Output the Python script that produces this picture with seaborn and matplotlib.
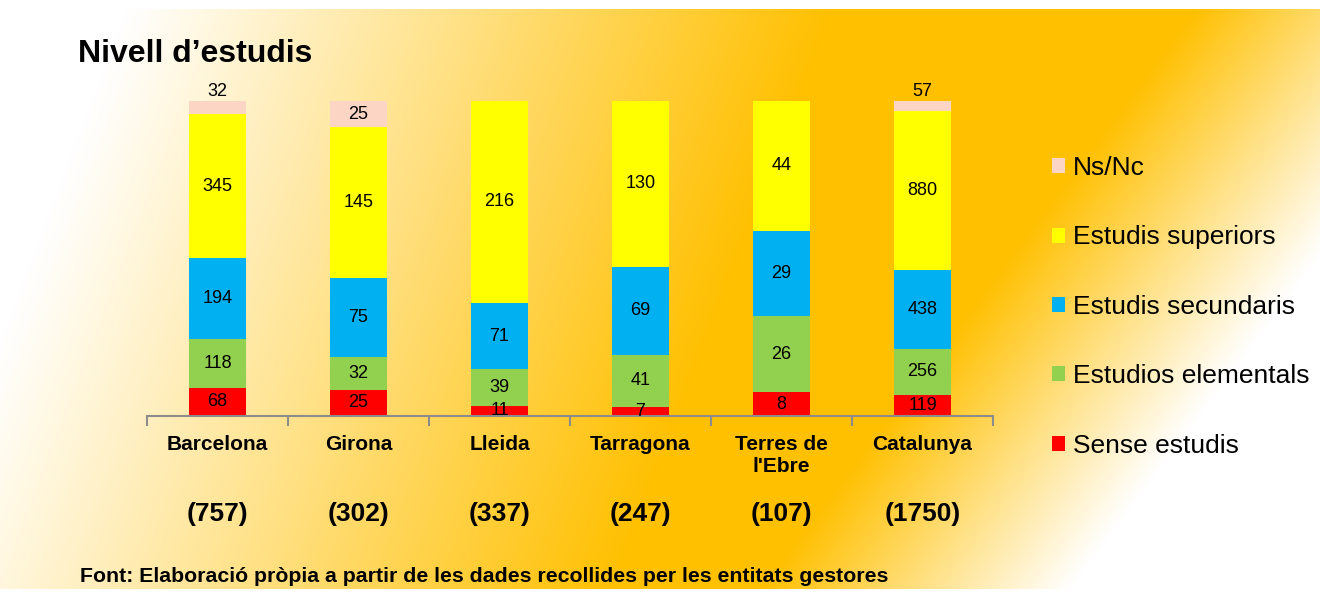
import numpy as np
import pandas as pd
import matplotlib
matplotlib.use("Agg")
import matplotlib.pyplot as plt
from matplotlib.patches import Patch
import seaborn as sns

# ---- data ----
categories = ["Barcelona", "Girona", "Lleida", "Tarragona", "Terres de\nl'Ebre", "Catalunya"]
totals_text = ["(757)", "(302)", "(337)", "(247)", "(107)", "(1750)"]
sense_estudis = [68, 25, 11, 7, 8, 119]
estudios_elementals = [118, 32, 39, 41, 26, 256]
estudis_secundaris = [194, 75, 71, 69, 29, 438]
estudis_superiors = [345, 145, 216, 130, 44, 880]
ns_nc = [32, 25, 0, 0, 0, 57]

series_names = ["Sense estudis", "Estudios elementals", "Estudis secundaris",
                "Estudis superiors", "Ns/Nc"]
series_values = [sense_estudis, estudios_elementals, estudis_secundaris,
                 estudis_superiors, ns_nc]
series_colors = ["#FF0000", "#92D050", "#00B0F0", "#FFFF00", "#FCD5C5"]

title = "Nivell d\u2019estudis"
source = "Font: Elaboraci\u00f3 pr\u00f2pia a partir de les dades recollides per les entitats gestores"

# ---- build table ----
vals = np.array(series_values, dtype=float)
tot = vals.sum(axis=0)
pct = vals / tot
cum = np.cumsum(pct, axis=0)
rows = []
for si, name in enumerate(series_names):
    for ci, cat in enumerate(categories):
        rows.append(dict(series=name, cat=cat, value=vals[si, ci],
                         pct=pct[si, ci], cum=cum[si, ci]))
df = pd.DataFrame(rows)

# ---- style ----
sns.set_theme(style="white")
plt.rcParams["font.family"] = ["Liberation Sans", "DejaVu Sans"]
plt.rcParams["text.color"] = "black"

W, H = 1320, 593
fig = plt.figure(figsize=(W / 100, H / 100), dpi=100)

# background gradient
yy, xx = np.mgrid[0:H, 0:W].astype(float)
u1 = xx + 0.38 * yy
w1 = np.clip((u1 - 130) / (840 - 130), 0, 1)
u2 = xx + 0.75 * yy
w2 = 1 - np.clip((u2 - 1200) / (1510 - 1200), 0, 1)
w = w1 * w2
w[:9, :] = 0
w[589:, :] = 0
orange = np.array([255, 192, 0]) / 255.0
white = np.array([1.0, 1.0, 1.0])
img = white[None, None, :] * (1 - w[..., None]) + orange[None, None, :] * w[..., None]
bg = fig.add_axes([0, 0, 1, 1])
bg.imshow(img, aspect="auto", interpolation="bilinear")
bg.set_axis_off()

left, right = 147 / W, 993 / W
bottom, top = 1 - 416 / H, 1 - 101 / H
ax = fig.add_axes([left, bottom, right - left, top - bottom])
ax.patch.set_alpha(0)

# stacked 100% bars: draw cumulative layers from top down
for si in reversed(range(len(series_names))):
    sub = df[df.series == series_names[si]]
    sns.barplot(data=sub, x="cat", y="cum", order=categories, color=series_colors[si],
                saturation=1, width=0.4, ax=ax, errorbar=None, linewidth=0)

ax.set_ylim(0, 1)
ax.set_xlim(-0.5, len(categories) - 0.5)
ax.set_xlabel("")
ax.set_ylabel("")
ax.set_yticks([])
for s in ["top", "right", "left"]:
    ax.spines[s].set_visible(False)
ax.spines["bottom"].set_color("#8C8C8C")
ax.spines["bottom"].set_linewidth(1.5)
ax.set_xticks(range(len(categories)))
ax.set_xticklabels(categories, fontsize=15, fontweight="bold", color="black",
                   linespacing=1.2)
ax.tick_params(axis="x", which="major", length=0, pad=14, bottom=True)
ax.set_xticks(np.arange(-0.5, len(categories), 1.0), minor=True)
ax.tick_params(axis="x", which="minor", length=7, width=1.5, color="#8C8C8C",
               direction="out", bottom=True)

# data labels
for si in range(len(series_names)):
    for ci in range(len(categories)):
        v = vals[si, ci]
        if v <= 0:
            continue
        p = pct[si, ci]
        yc = cum[si, ci] - p / 2
        if si == len(series_names) - 1 and p < 0.05:
            yc = 1.03
        ax.text(ci, yc, f"{int(v)}", ha="center", va="center", fontsize=13,
                color="black", clip_on=False)

# totals under category names
for ci, t in enumerate(totals_text):
    ax.text(ci, -0.31, t, transform=ax.get_xaxis_transform(), ha="center",
            va="center", fontsize=19, fontweight="bold", color="black")

# title and source
fig.text(78 / W, 1 - 54 / H, title, fontsize=23, fontweight="bold", ha="left",
         va="center", color="black")
fig.text(80 / W, 1 - 577 / H, source, fontsize=15.3, fontweight="bold", ha="left",
         va="center", color="black")

# legend
handles = [Patch(facecolor=series_colors[i], edgecolor="none", label=series_names[i])
           for i in reversed(range(len(series_names)))]
fig.legend(handles=handles, loc="upper left", bbox_to_anchor=(1052 / W, 1 - 156 / H),
           frameon=False, fontsize=19, handlelength=0.5, handleheight=0.5,
           handletextpad=0.3, labelspacing=1.72, borderpad=0, borderaxespad=0,
           labelcolor="black")

fig.savefig("out.png", dpi=100)
